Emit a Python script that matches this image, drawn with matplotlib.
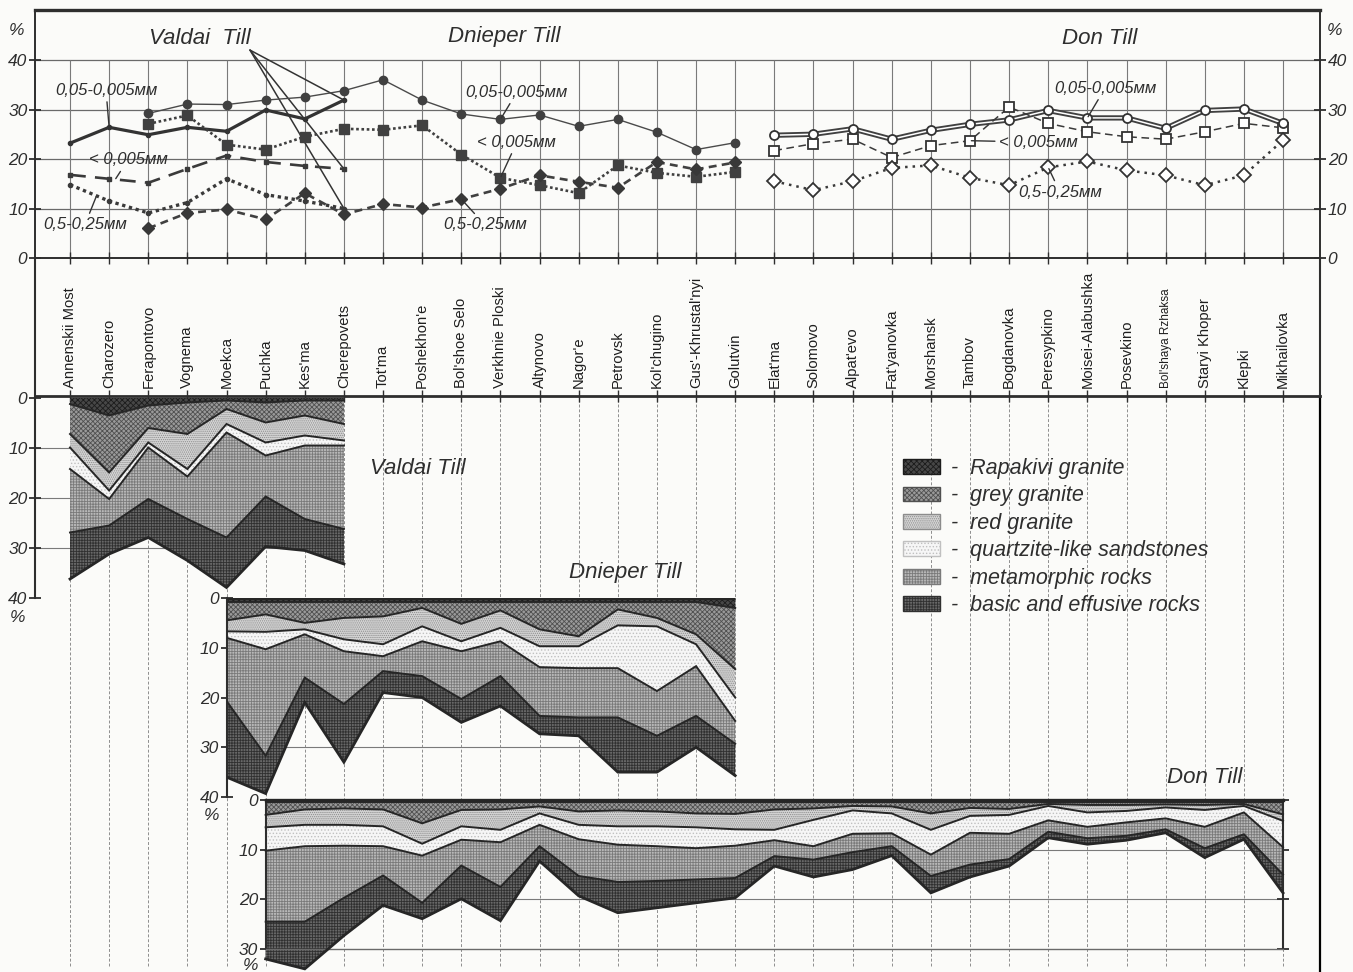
import numpy as np
import matplotlib
matplotlib.use("Agg")
import matplotlib.pyplot as plt
import matplotlib.patheffects as pe
from matplotlib.patches import Patch

plt.rcParams["font.family"] = ["Liberation Sans", "DejaVu Sans"]
plt.rcParams["font.style"] = "italic"
plt.rcParams["hatch.linewidth"] = 0.6

# ---------------------------------------------------------------- data
stations = [
    "Annenskii Most", "Charozero", "Ferapontovo", "Vognema", "Moekca", "Puchka",
    "Kes'ma", "Cherepovets", "Tot'ma", "Poshekhon'e", "Bol'shoe Selo",
    "Verkhnie Ploski", "Altynovo", "Nagor'e", "Petrovsk", "Kol'chugino",
    "Gus'-Khrustal'nyi", "Golutvin", "Elat'ma", "Solomovo", "Alpat'evo",
    "Fat'yanovka", "Morshansk", "Tambov", "Bogdanovka", "Peresypkino",
    "Moisei-Alabushka", "Posevkino", "Bol'shaya Rzhaksa", "Staryi Khoper",
    "Klepki", "Mikhailovka",
]
station_pos = list(range(len(stations)))

# grain-size fractions of the till matrix, %
valdai_pos = list(range(0, 8))
valdai_silt = [23.2, 26.4, 24.9, 26.4, 25.6, 29.9, 28.1, 31.9]
valdai_clay = [16.8, 16.0, 15.2, 18.0, 20.7, 19.4, 18.6, 18.0]
valdai_sand = [14.8, 11.5, 9.1, 11.2, 16.0, 12.8, 11.5, 10.0]

dnieper_pos = list(range(2, 18))
dnieper_silt = [29.2, 31.1, 31.0, 31.9, 32.5, 33.8, 36.0, 31.9, 29.1, 28.0,
                28.9, 26.6, 28.0, 25.4, 21.9, 23.3]
dnieper_clay = [27.1, 28.8, 22.9, 21.9, 24.5, 26.1, 25.9, 26.8, 20.9, 16.2,
                14.7, 13.1, 18.7, 17.2, 16.4, 17.4]
dnieper_sand = [6.0, 9.1, 9.8, 7.8, 13.1, 8.8, 10.9, 10.2, 11.9, 14.0,
                16.7, 15.4, 14.2, 19.4, 17.9, 19.3]

don_pos = list(range(18, 32))
don_silt = [24.8, 25.0, 26.1, 24.0, 25.8, 27.0, 27.9, 29.8, 28.3, 28.3,
            26.2, 29.8, 30.1, 27.2]
don_clay = [21.7, 23.1, 24.0, 20.3, 22.7, 23.7, 30.5, 27.2, 25.5, 24.5,
            24.0, 25.5, 27.2, 26.3]
don_sand = [15.5, 13.7, 15.5, 18.2, 18.7, 16.2, 14.7, 18.3, 19.5, 17.7,
            16.7, 14.7, 16.7, 23.8]

# pebble composition of the tills, %
rock_types = ["Rapakivi granite", "grey granite", "red granite",
              "quartzite-like sandstones", "metamorphic rocks",
              "basic and effusive rocks"]

valdai_rock_pos = list(range(0, 8))
valdai_rapakivi = [1.2, 3.5, 1.5, 0.9, 0.5, 0.9, 0.5, 0.5]
valdai_grey = [6.0, 11.4, 4.5, 6.3, 1.7, 4.0, 3.0, 4.7]
valdai_red = [2.7, 3.6, 2.9, 7.0, 3.0, 4.0, 4.0, 3.3]
valdai_quartzite = [4.3, 1.7, 1.0, 1.5, 1.7, 2.6, 2.0, 1.0]
valdai_metamorphic = [12.7, 5.3, 10.3, 8.5, 21.0, 8.2, 14.7, 16.7]
valdai_basic = [9.3, 5.7, 7.7, 8.3, 10.0, 10.0, 6.3, 7.0]

dnieper_rock_pos = list(range(4, 18))
dnieper_rapakivi = [0.8, 0.8, 0.8, 0.8, 0.8, 0.8, 0.8, 0.8, 0.8, 0.8, 0.8, 0.8, 0.8, 2.0]
dnieper_grey = [3.7, 2.5, 4.2, 3.2, 2.9, 1.2, 4.4, 1.7, 5.5, 6.9, 1.5, 3.2, 6.5, 12.3]
dnieper_red = [2.2, 3.5, 1.3, 4.3, 5.6, 3.7, 3.5, 3.5, 3.4, 2.0, 3.2, 1.7, 2.0, 5.7]
dnieper_quartzite = [1.3, 3.5, 1.0, 2.4, 2.4, 3.0, 2.0, 2.7, 4.2, 4.4, 8.6, 13.0, 4.4, 4.7]
dnieper_metamorphic = [12.7, 21.4, 8.7, 10.6, 3.0, 7.0, 9.6, 7.0, 9.8, 9.9, 9.9, 9.0, 10.0, 4.6]
dnieper_basic = [15.3, 7.6, 5.0, 11.7, 4.3, 4.3, 4.7, 6.0, 3.6, 3.7, 11.0, 7.3, 6.3, 6.4]

don_rock_pos = list(range(5, 32))
don_rapakivi = [0.4] * 27
don_grey = [2.6, 1.5, 1.3, 1.5, 4.3, 1.6, 1.5, 0.9, 1.9, 1.7, 1.9, 2.3, 2.4, 1.5,
            1.3, 0.8, 0.9, 2.3, 1.2, 1.4, 0.4, 0.6, 0.6, 0.5, 0.6, 0.4, 2.5]
don_red = [2.5, 3.1, 3.3, 3.4, 4.1, 3.3, 4.1, 1.4, 2.7, 3.2, 3.0, 2.8, 3.1, 4.1,
           2.3, 0.9, 1.4, 3.3, 1.6, 1.2, 0.4, 1.5, 1.2, 0.6, 1.0, 0.4, 1.3]
don_quartzite = [4.7, 4.3, 4.2, 4.0, 2.4, 2.7, 2.5, 2.3, 2.9, 3.7, 4.0, 4.2, 3.3, 2.1,
                 5.3, 4.7, 4.0, 5.0, 3.4, 3.8, 2.9, 2.9, 2.3, 2.2, 3.4, 1.3, 5.3]
don_metamorphic = [14.3, 15.2, 10.5, 5.9, 9.5, 5.2, 9.0, 4.3, 7.4, 7.5, 7.0, 6.3, 6.5, 3.2,
                   2.7, 3.7, 2.6, 4.3, 6.4, 5.1, 2.3, 2.3, 2.7, 2.2, 4.3, 4.4, 5.5]
don_basic = [7.5, 9.5, 7.6, 6.0, 3.2, 6.7, 6.8, 3.0, 4.0, 6.2, 5.4, 4.7, 4.0, 2.0,
             3.5, 3.5, 1.9, 3.4, 2.5, 1.4, 1.2, 1.2, 0.9, 0.7, 1.9, 1.0, 3.7]

# ---------------------------------------------------------------- styles
INK = "#2e2e2e"
TICK_SIZE = 12.5
TITLE_SIZE = 16
rock_styles = [  # face, hatch, hatch colour
    ("#474747", "xxxxxx", "#1c1c1c"),
    ("#9a9a9a", "xxxxxxx", "#505050"),
    ("#d4d4d4", "........", "#8c8c8c"),
    ("#f6f6f6", ".....", "#c0c0c0"),
    ("#b8b8b8", "++++++", "#7a7a7a"),
    ("#686868", "++++++", "#303030"),
]

# ---------------------------------------------------------------- layout
W, H = 1353, 972
X0, STEP = 70.0, 39.13          # pixel position of the first station, spacing
fig = plt.figure(figsize=(W / 100, H / 100), dpi=100, facecolor="#fbfbf9")


def px_axes(x0, y0, x1, y1):
    ax_ = fig.add_axes([x0 / W, 1 - y1 / H, (x1 - x0) / W, (y1 - y0) / H])
    ax_.set_facecolor("none")
    return ax_


def station_lim(px_left, px_right):
    return (px_left - X0) / STEP, (px_right - X0) / STEP


XL = station_lim(35, 1320)

# background vertical guides of the lower block
gax = px_axes(35, 396, 1320, 972)
gax.set_xlim(*XL)
gax.set_ylim(0, 1)
for s in ("top", "left", "bottom"):
    gax.spines[s].set_visible(False)
gax.spines["right"].set_linewidth(1.6)
gax.set_xticks([])
gax.set_yticks([])
for p in station_pos:
    gax.axvline(p, ymin=0.01, color="#8e8e8e", lw=0.7, ls=(0, (3, 2)), zorder=0)

# ---------------------------------------------------------------- upper plot
ax = px_axes(35, 10, 1320, 258)
ax.set_xlim(*XL)
ax.set_ylim(0, (258 - 10) / 4.95)
for s in ax.spines.values():
    s.set_linewidth(1.4)
    s.set_color(INK)
ax.spines["top"].set_linewidth(2.4)
ax.set_yticks([0, 10, 20, 30, 40])
ax.tick_params(axis="y", left=True, right=True, labelleft=True, labelright=True,
               direction="inout", length=9, width=1.3, labelsize=TICK_SIZE, pad=1,
               colors=INK)
ax.set_xticks(station_pos)
ax.tick_params(axis="x", direction="inout", length=9, width=1.0,
               labelbottom=False, colors=INK)
for lev in (10, 20, 30, 40):
    ax.axhline(lev, color="#6a6a6a", lw=0.9, zorder=1)
ax.vlines(station_pos, 0, 40, color="#7a7a7a", lw=0.8, zorder=1)
ax.text(-0.014, 46, "%", transform=ax.get_yaxis_transform(), ha="center",
        va="center", fontsize=TICK_SIZE, color=INK)
ax.text(1.011, 46, "%", transform=ax.get_yaxis_transform(), ha="center",
        va="center", fontsize=TICK_SIZE, color=INK)

# Valdai till
ax.plot(valdai_pos, valdai_silt, color="#333", lw=2.3, marker="o", ms=3, zorder=4)
ax.plot(valdai_pos, valdai_clay, color="#3a3a3a", lw=1.9, ls=(0, (6, 3.5)),
        marker="s", ms=3, zorder=4)
ax.plot(valdai_pos, valdai_sand, color="#3a3a3a", lw=2.4, ls=(0, (1, 1.1)),
        marker="o", ms=3, zorder=4)

# Dnieper till
ax.plot(dnieper_pos, dnieper_silt, color="#4a4a4a", lw=1.0, marker="o", ms=6,
        mfc="#404040", mec="#404040", zorder=4)
ax.plot(dnieper_pos, dnieper_clay, color="#404040", lw=1.9, ls=(0, (1, 1)),
        marker="s", ms=6.5, mfc="#404040", mec="#404040", zorder=4)
ax.plot(dnieper_pos, dnieper_sand, color="#404040", lw=1.9, ls=(0, (3, 2)),
        marker="D", ms=6, mfc="#383838", mec="#383838", zorder=4)

# Don till
ax.plot(don_pos, don_silt, color="white", lw=1.1, zorder=4,
        path_effects=[pe.Stroke(linewidth=3.8, foreground="#404040"), pe.Normal()])
ax.plot(don_pos, don_silt, ls="none", marker="o", ms=6.5, mfc="white",
        mec="#333", mew=1.3, zorder=5)
ax.plot(don_pos, don_clay, color="#3a3a3a", lw=1.1, ls=(0, (5, 3)),
        marker="s", ms=6.5, mfc="white", mec="#333", mew=1.3, zorder=4)
ax.plot(don_pos, don_sand, color="#3a3a3a", lw=1.8, ls=(0, (1, 2)),
        marker="D", ms=7.5, mfc="white", mec="#333", mew=1.3, zorder=4)

# titles and leaders
title_kw = dict(fontsize=TITLE_SIZE, color=INK, ha="center", va="center")
ax.text(3.32, 44.4, "Valdai  Till", **title_kw)
ax.text(11.09, 44.8, "Dnieper Till", **title_kw)
ax.text(26.32, 44.4, "Don Till", **title_kw)
for v in (valdai_silt[-1], valdai_clay[-1], valdai_sand[-1]):
    ax.annotate("", xy=(valdai_pos[-1], v), xytext=(4.6, 42.0),
                arrowprops=dict(arrowstyle="-", color="#333", lw=1.1,
                                shrinkA=0, shrinkB=0))

lead = dict(arrowstyle="-", color="#333", lw=1.0, shrinkA=1, shrinkB=1)
lab_kw = dict(fontsize=12, color=INK, ha="center", va="center",
              arrowprops=lead, zorder=6)
ax.annotate("0,05-0,005мм", xy=(1, valdai_silt[1]), xytext=(0.92, 33.9), **lab_kw)
ax.annotate("< 0,005мм", xy=(1.15, 15.8), xytext=(1.48, 19.8), **lab_kw)
ax.annotate("0,5-0,25мм", xy=(0.68, 12.6), xytext=(0.38, 6.7), **lab_kw)
ax.annotate("0,05-0,005мм", xy=(11, dnieper_silt[9]), xytext=(11.42, 33.5), **lab_kw)
ax.annotate("< 0,005мм", xy=(11, dnieper_clay[9]), xytext=(11.42, 23.4), **lab_kw)
ax.annotate("0,5-0,25мм", xy=(10, dnieper_sand[8]), xytext=(10.6, 6.7), **lab_kw)
ax.annotate("0,05-0,005мм", xy=(26, don_silt[8]), xytext=(26.45, 34.3), **lab_kw)
ax.annotate("< 0,005мм", xy=(23, don_clay[5]), xytext=(24.75, 23.4), **lab_kw)
ax.annotate("0,5-0,25мм", xy=(25, don_sand[7]), xytext=(25.3, 13.3), **lab_kw)

# ---------------------------------------------------------------- station names
lab = px_axes(35, 258, 1320, 396)
lab.set_xlim(*XL)
lab.set_ylim(0, 1)
lab.spines["top"].set_visible(False)
for s in ("left", "right", "bottom"):
    lab.spines[s].set_linewidth(1.5)
    lab.spines[s].set_color(INK)
lab.spines["bottom"].set_linewidth(2.0)
lab.set_yticks([])
lab.set_xticks(station_pos)
lab.tick_params(axis="x", direction="inout", length=9, width=1.0,
                labelbottom=False, colors=INK)
for p, name in zip(station_pos, stations):
    lab.text(p, 0.055, name, transform=lab.get_xaxis_transform(), rotation=90,
             ha="center", va="bottom", style="normal", color="#1e1e1e",
             fontsize=8.5 if len(name) > 16 and " " in name else 10.6)


# ---------------------------------------------------------------- lower plots
def draw_composition(axc, pos, layers, clip=True):
    base = np.zeros(len(pos))
    bounds = []
    for (fc, hatch, hc), vals in zip(rock_styles, layers):
        top = base + np.asarray(vals, dtype=float)
        axc.fill_between(pos, base, top, facecolor=fc, edgecolor=hc,
                         hatch=hatch, linewidth=0, zorder=2, clip_on=clip)
        bounds.append(top)
        base = top
    for k, b in enumerate(bounds):
        axc.plot(pos, b, color="#262626", lw=2.0 if k == len(bounds) - 1 else 1.4,
                 zorder=3, solid_joinstyle="miter", clip_on=clip)


def style_depth_axis(axc, ticks):
    for s in ("top", "right", "bottom"):
        axc.spines[s].set_visible(False)
    axc.spines["left"].set_linewidth(1.5)
    axc.spines["left"].set_color(INK)
    axc.set_xticks([])
    axc.set_yticks(ticks)
    axc.tick_params(axis="y", direction="inout", length=9, width=1.3,
                    labelsize=TICK_SIZE, pad=1, colors=INK)


# Valdai
vax = px_axes(35, 398, 1320, 598)
vax.set_xlim(*XL)
vax.set_ylim(40, 0)
style_depth_axis(vax, [0, 10, 20, 30, 40])
vax.hlines([10, 20, 30], XL[0], valdai_rock_pos[-1], color="#7a7a7a", lw=0.8, zorder=1)
draw_composition(vax, valdai_rock_pos,
                 [valdai_rapakivi, valdai_grey, valdai_red, valdai_quartzite,
                  valdai_metamorphic, valdai_basic])
vax.annotate("%", xy=(0, 0), xycoords="axes fraction", xytext=(-17, -19),
             textcoords="offset pixels", ha="center", va="center",
             fontsize=TICK_SIZE, color=INK)
vax.text(8.9, 14, "Valdai Till", fontsize=TITLE_SIZE, color=INK, ha="center", va="center")
vax.text(14.2, 34.8, "Dnieper Till", fontsize=TITLE_SIZE, color=INK, ha="center", va="center")

# Dnieper
dax = px_axes(X0 + 4 * STEP, 598, 1320, 797)
dax.set_xlim(4, station_lim(0, 1320)[1])
dax.set_ylim(40, 0)
style_depth_axis(dax, [0, 10, 20, 30, 40])
dax.hlines([10, 20, 30], dnieper_rock_pos[0], dnieper_rock_pos[-1],
           color="#7a7a7a", lw=0.8, zorder=1)
draw_composition(dax, dnieper_rock_pos,
                 [dnieper_rapakivi, dnieper_grey, dnieper_red, dnieper_quartzite,
                  dnieper_metamorphic, dnieper_basic])
dax.hlines(0, dnieper_rock_pos[0], dnieper_rock_pos[-1], color="#262626", lw=2.4, zorder=4)
dax.annotate("%", xy=(0, 0), xycoords="axes fraction", xytext=(-15, -18),
             textcoords="offset pixels", ha="center", va="center",
             fontsize=TICK_SIZE, color=INK)
dax.text(29.0, 36.0, "Don Till", fontsize=TITLE_SIZE, color=INK, ha="center", va="center")

# Don
nax = px_axes(X0 + 5 * STEP, 800, X0 + 31 * STEP, 949)
nax.set_xlim(don_rock_pos[0], don_rock_pos[-1])
nax.set_ylim(30, 0)
style_depth_axis(nax, [0, 10, 20, 30])
nax.spines["right"].set_visible(True)
nax.spines["right"].set_linewidth(1.5)
nax.spines["right"].set_color(INK)
nax.spines["top"].set_visible(True)
nax.spines["top"].set_linewidth(2.4)
nax.spines["top"].set_color("#262626")
nax.spines["bottom"].set_visible(True)
nax.spines["bottom"].set_linewidth(1.0)
nax.spines["bottom"].set_color("#6a6a6a")
nax.tick_params(axis="y", right=True, labelright=False)
nax.hlines([10, 20], don_rock_pos[0], don_rock_pos[-1], color="#7a7a7a", lw=0.8, zorder=1)
draw_composition(nax, don_rock_pos,
                 [don_rapakivi, don_grey, don_red, don_quartzite,
                  don_metamorphic, don_basic], clip=False)
nax.annotate("%", xy=(0, 0), xycoords="axes fraction", xytext=(-15, -16),
             textcoords="offset pixels", ha="center", va="center",
             fontsize=TICK_SIZE, color=INK)

# legend
handles = [Patch(facecolor=fc, edgecolor=hc, hatch=h, linewidth=1.0)
           for fc, h, hc in rock_styles]
fig.legend(handles, ["-  " + r for r in rock_types], loc="upper left",
           bbox_to_anchor=(903 / W, 1 - 458 / H), frameon=False,
           prop=dict(style="italic", size=15.5), handlelength=1.72,
           handleheight=0.68, handletextpad=0.5, labelspacing=0.3,
           borderaxespad=0, borderpad=0, labelcolor=INK)

fig.savefig("out.png", dpi=100, facecolor=fig.get_facecolor())
